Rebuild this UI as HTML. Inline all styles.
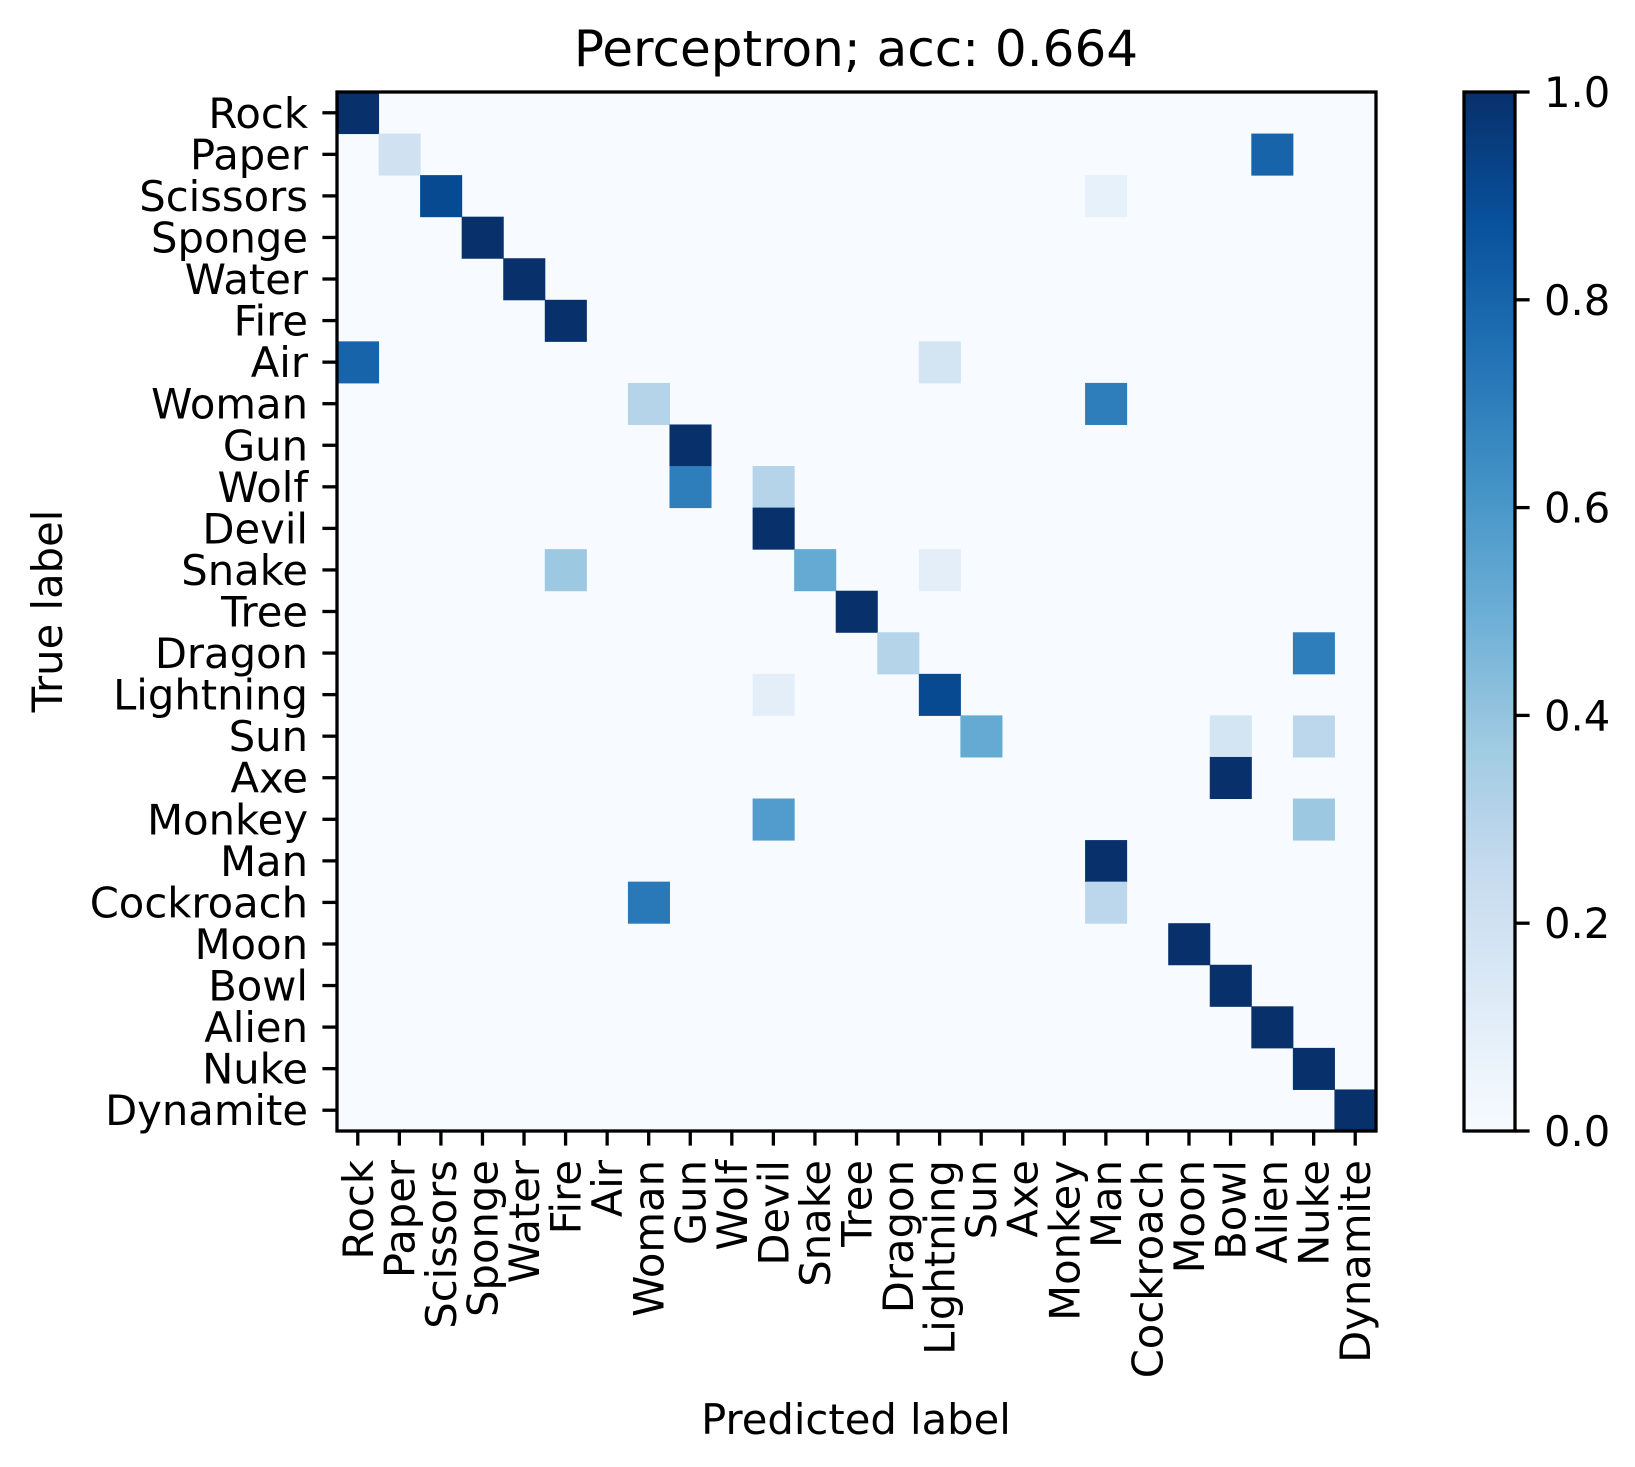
<!DOCTYPE html>
<html><head><meta charset="utf-8"><style>
body{margin:0;background:#fff}
svg{display:block;font-family:"DejaVu Sans","Liberation Sans",sans-serif}
</style></head><body>
<svg id="chart" width="1635" height="1467" viewBox="0 0 1635 1467">
<rect width="1635" height="1467" fill="#fff"/>
<text x="856" y="66" font-size="50" text-anchor="middle">Perceptron; acc: 0.664</text>
<g id="cells"></g>
<g id="axes"></g>
<text x="856" y="1434" font-size="41.7" text-anchor="middle">Predicted label</text>
<text transform="translate(62,611) rotate(-90)" font-size="41.7" text-anchor="middle">True label</text>
<defs><linearGradient id="cbg" x1="0" y1="1" x2="0" y2="0">
<stop offset="0" stop-color="#f7fbff"/><stop offset="0.125" stop-color="#deebf7"/><stop offset="0.25" stop-color="#c6dbef"/><stop offset="0.375" stop-color="#9ecae1"/><stop offset="0.5" stop-color="#6baed6"/><stop offset="0.625" stop-color="#4292c6"/><stop offset="0.75" stop-color="#2171b5"/><stop offset="0.875" stop-color="#08519c"/><stop offset="1" stop-color="#08306b"/>
</linearGradient></defs>
<g id="cbar"></g>
</svg>
<script>
const categories = ["Rock","Paper","Scissors","Sponge","Water","Fire","Air","Woman","Gun","Wolf","Devil","Snake","Tree","Dragon","Lightning","Sun","Axe","Monkey","Man","Cockroach","Moon","Bowl","Alien","Nuke","Dynamite"];
// nonzero entries: [trueRow, predCol, value]
const cellValues = [
[0,0,1],[1,1,0.2],[1,22,0.8],[2,2,0.9],[2,18,0.08],[3,3,1],[4,4,1],[5,5,1],
[6,0,0.8],[6,14,0.18],[7,7,0.3],[7,18,0.7],[8,8,1],[9,8,0.7],[9,10,0.3],[10,10,1],
[11,5,0.38],[11,11,0.52],[11,14,0.1],[12,12,1],[13,13,0.3],[13,23,0.7],[14,10,0.1],[14,14,0.9],
[15,15,0.52],[15,21,0.18],[15,23,0.28],[16,21,1],[17,10,0.58],[17,23,0.38],[18,18,1],
[19,7,0.72],[19,18,0.28],[20,20,1],[21,21,1],[22,22,1],[23,23,1],[24,24,1]
];
const cbTicks = [0,0.2,0.4,0.6,0.8,1.0];
const cbTickLabels = ["0.0","0.2","0.4","0.6","0.8","1.0"];

const NS="http://www.w3.org/2000/svg";
const L=337,T=92,R=1376,B=1131,n=categories.length,cw=(R-L)/n,ch=(B-T)/n;
const xs=i=>L+i*cw, ys=i=>T+i*ch;
const stops=[[0,[247,251,255]],[0.125,[222,235,247]],[0.25,[198,219,239]],[0.375,[158,202,225]],[0.5,[107,174,214]],[0.625,[66,146,198]],[0.75,[33,113,181]],[0.875,[8,81,156]],[1,[8,48,107]]];
function blues(v){v=Math.max(0,Math.min(1,v));for(let i=1;i<stops.length;i++){if(v<=stops[i][0]){const a=stops[i-1],b=stops[i],t=(v-a[0])/(b[0]-a[0]);return 'rgb('+a[1].map((c,k)=>Math.round(c+(b[1][k]-c)*t)).join(',')+')';}}return 'rgb(8,48,107)';}
function mk(tag,attrs,parent){const e=document.createElementNS(NS,tag);for(const k in attrs)e.setAttribute(k,attrs[k]);parent.appendChild(e);return e;}
const cells=document.getElementById('cells'),axes=document.getElementById('axes'),cbar=document.getElementById('cbar');
const bg=mk('rect',{x:L,y:T,width:R-L,height:B-T,fill:blues(0)},cells);


cellValues.forEach(([r,c,v])=>{
  const e=mk('rect',{x:xs(c),y:ys(r),width:cw+0.5,height:ch+0.5,fill:blues(v)},cells);
  
  
});
const frame=mk('rect',{x:L,y:T,width:R-L,height:B-T,fill:'none',stroke:'#000','stroke-width':3.3},axes);


categories.forEach((name,i)=>{
  const y=ys(i)+ch/2, x=xs(i)+cw/2;
  mk('line',{x1:L,x2:L-14.6,y1:y,y2:y,stroke:'#000','stroke-width':3.3},axes);
  const yl=mk('text',{x:L-29,y:y+15,'font-size':41.7,'text-anchor':'end'},axes);
  yl.textContent=name;
  
  
  mk('line',{x1:x,x2:x,y1:B,y2:B+14.6,stroke:'#000','stroke-width':3.3},axes);
  const xl=mk('text',{transform:'translate('+(x+15)+','+(B+29)+') rotate(-90)','font-size':41.7,'text-anchor':'end'},axes);
  xl.textContent=name;
  
  
});
const CX0=1464,CX1=1515;
const cbs=v=>B-v*(B-T);
const cr=mk('rect',{x:CX0,y:T,width:CX1-CX0,height:B-T,fill:'url(#cbg)',stroke:'#000','stroke-width':3.3},cbar);


cbTicks.forEach((v,i)=>{
  const y=cbs(v);
  mk('line',{x1:CX1,x2:CX1+14.6,y1:y,y2:y,stroke:'#000','stroke-width':3.3},cbar);
  const t=mk('text',{x:CX1+29,y:y+15,'font-size':41.7},cbar);
  t.textContent=cbTickLabels[i];
  
  
});
</script>
</body></html>
